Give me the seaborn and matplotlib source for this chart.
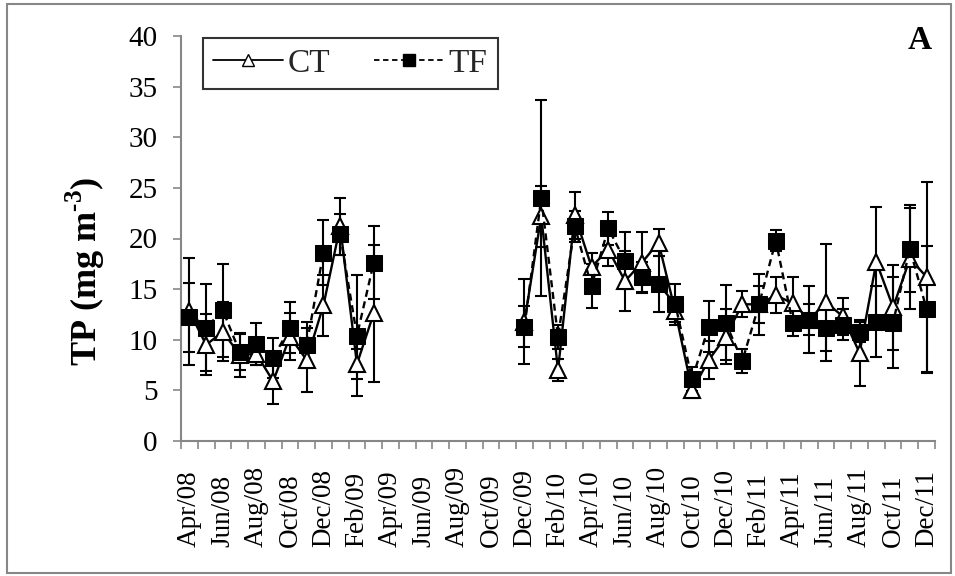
import numpy as np
import pandas as pd
import matplotlib
matplotlib.use("Agg")
import matplotlib.pyplot as plt
import seaborn as sns
from matplotlib.lines import Line2D
from matplotlib.patches import Rectangle

# Monthly samples Apr/08 - Dec/11 (no sampling Apr/09 - Nov/09)
months = pd.date_range("2008-04-01", "2011-12-01", freq="MS")
month_labels = [d.strftime("%b/%y") for d in months]
gap = [np.nan] * 8

ct_mean = ([12.8, 9.5, 10.8, 8.5, 8.6, 5.9, 10.3, 8.0, 13.4, 21.2, 7.6, 12.6] + gap +
           [11.8, 22.2, 7.0, 22.3, 17.2, 18.9, 15.8, 17.6, 19.6, 12.8, 5.0, 8.0, 10.3,
            13.5, 13.5, 14.4, 13.6, 12.0, 13.7, 12.3, 8.7, 17.7, 13.2, 18.0, 16.2])
ct_sd = ([5.3, 3.0, 2.9, 2.2, 1.1, 2.2, 2.3, 3.2, 3.0, 2.8, 1.5, 6.8] + gap +
         [4.2, 3.0, 1.1, 2.3, 1.4, 1.6, 3.0, 3.0, 1.3, 1.0, 0.8, 1.9, 2.7,
          1.3, 1.8, 1.8, 2.6, 1.5, 5.8, 1.8, 3.3, 5.4, 4.2, 5.0, 9.4])
tf_mean = ([12.2, 11.2, 12.9, 8.8, 9.6, 8.2, 11.2, 9.5, 18.6, 20.4, 10.4, 17.6] + gap +
           [11.3, 24.0, 10.3, 21.2, 15.3, 21.0, 17.8, 16.2, 15.5, 13.5, 6.1, 11.3, 11.7,
            7.9, 13.5, 19.8, 11.7, 12.0, 11.2, 11.5, 10.8, 11.8, 11.7, 19.0, 13.0])
tf_sd = ([3.4, 4.3, 4.6, 1.8, 2.1, 2.0, 2.5, 2.3, 3.2, 2.0, 6.0, 3.6] + gap +
         [2.0, 9.7, 1.2, 1.5, 2.2, 1.6, 2.8, 1.5, 2.8, 2.0, 1.2, 2.5, 3.7,
          1.2, 3.0, 1.0, 1.3, 3.3, 2.3, 1.5, 1.0, 3.5, 4.5, 4.3, 6.3])

idx = np.arange(len(months))
seg = np.where(idx < 12, 0, 1)
df = pd.DataFrame({"idx": idx, "seg": seg,
                   "CT": ct_mean, "CT_sd": ct_sd, "TF": tf_mean, "TF_sd": tf_sd})

sns.set_theme(style="white")
plt.rcParams["font.family"] = ["Liberation Serif", "DejaVu Serif"]
plt.rcParams["mathtext.fontset"] = "custom"
plt.rcParams["mathtext.rm"] = "Liberation Serif"
plt.rcParams["mathtext.bf"] = "Liberation Serif:bold"

fig = plt.figure(figsize=(9.55, 5.76), dpi=100)
ax = fig.add_axes([181 / 955, 1 - 441 / 576, 754 / 955, 405 / 576])

grey = "#878787"

# error bars
ax.errorbar(df["idx"], df["CT"], yerr=df["CT_sd"], fmt="none", ecolor="black",
            elinewidth=1.5, capsize=4.5, capthick=1.5, zorder=2)
ax.errorbar(df["idx"], df["TF"], yerr=df["TF_sd"], fmt="none", ecolor="black",
            elinewidth=1.5, capsize=4.5, capthick=1.5, zorder=2)

d = df.dropna(subset=["CT"])
sns.lineplot(data=d, x="idx", y="CT", units="seg", estimator=None, ax=ax,
             color="black", lw=1.7, marker="^", ms=11, mfc="white", mec="black",
             mew=1.5, legend=False, zorder=3)
sns.lineplot(data=d, x="idx", y="TF", units="seg", estimator=None, ax=ax,
             color="black", lw=1.7, linestyle=(0, (3, 2)), marker="s", ms=11,
             mfc="black", mec="black", legend=False, zorder=4)

ax.set_xlim(-0.5, len(months) - 0.5)
ax.set_ylim(0, 40)
ax.set_yticks(range(0, 41, 5))
ax.tick_params(axis="y", labelsize=21, length=6, width=1.2, color=grey,
               direction="out", pad=11, left=True, labelcolor="black")

ax.set_xticks(idx[::2])
ax.set_xticklabels(month_labels[::2], rotation=90)
ax.set_xticks(np.arange(-0.5, len(months), 1), minor=True)
ax.tick_params(axis="x", which="major", length=0, labelsize=19.5, pad=76, labelcolor="black")
ax.tick_params(axis="x", which="minor", length=6, width=1.2, color=grey,
               direction="out", bottom=True)
for lab in ax.get_xticklabels():
    lab.set_verticalalignment("bottom")

for s in ["top", "right"]:
    ax.spines[s].set_visible(False)
for s in ["left", "bottom"]:
    ax.spines[s].set_color(grey)
    ax.spines[s].set_linewidth(1.5)

ax.set_xlabel("")
ax.set_ylabel("TP (mg m$^{\\mathbf{\u20103}}$)", fontsize=26, fontweight="bold", color="black")
ax.yaxis.set_label_coords(-0.098, 0.42)

handles = [Line2D([], [], color="black", lw=1.3, marker="^", ms=8, mfc="white", mec="black"),
           Line2D([], [], color="black", lw=1.3, linestyle=(0, (3, 2)), marker="s", ms=8,
                  mfc="black", mec="black")]
leg = ax.legend(handles, ["CT", "TF"], ncol=2, loc="upper left",
                bbox_to_anchor=(0.029, 0.995), borderaxespad=0, fontsize=24,
                frameon=True, fancybox=False, edgecolor="black", handlelength=2.1,
                borderpad=0.3, columnspacing=1.3, handletextpad=0.15)
leg.get_frame().set_linewidth(1.5)

ax.text(0.996, 1.027, "A", transform=ax.transAxes, ha="right", va="top",
        fontsize=24, fontweight="bold", color="black")

fig.patches.append(Rectangle((7 / 955, 3 / 576), 944 / 955, 569 / 576,
                             transform=fig.transFigure, fill=False,
                             edgecolor=grey, lw=1.5))

fig.savefig("out.png", dpi=100)
